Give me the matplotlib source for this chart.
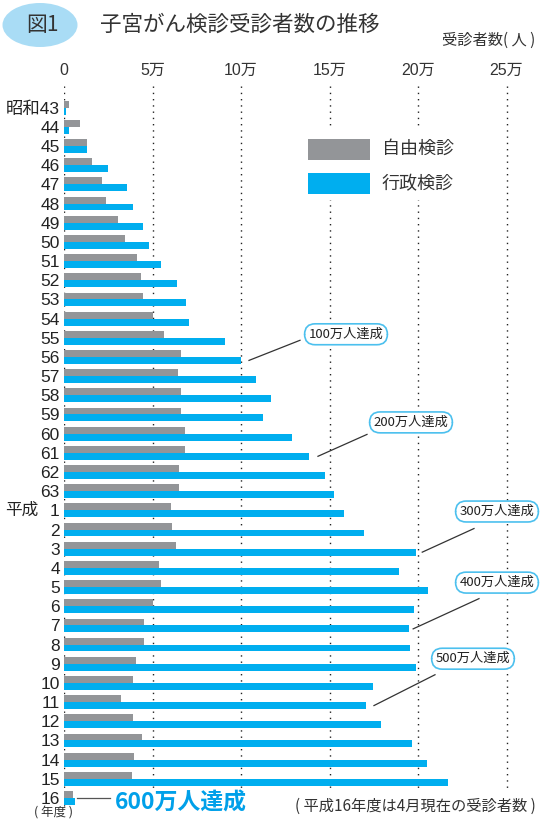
import numpy as np
import matplotlib.pyplot as plt
from matplotlib.patches import Ellipse, Rectangle

plt.rcParams['font.family'] = ['Noto Sans CJK JP', 'DejaVu Sans']

# 年度 (昭和43 ~ 平成16)
years = ["昭和43", "44", "45", "46", "47", "48", "49", "50", "51", "52", "53",
         "54", "55", "56", "57", "58", "59", "60", "61", "62", "63",
         "1", "2", "3", "4", "5", "6", "7", "8", "9", "10", "11", "12", "13",
         "14", "15", "16"]

# 受診者数 (万人)
jiyu = [0.28, 0.9, 1.3, 1.58, 2.15, 2.37, 3.05, 3.45, 4.12, 4.35, 4.46,
        5.03, 5.65, 6.6, 6.44, 6.6, 6.6, 6.84, 6.84, 6.5, 6.5,
        6.05, 6.1, 6.33, 5.37, 5.48, 5.03, 4.52, 4.52, 4.07, 3.9, 3.22, 3.9, 4.4,
        3.95, 3.84, 0.5]
gyosei = [0.11, 0.28, 1.3, 2.49, 3.56, 3.9, 4.46, 4.8, 5.48, 6.38, 6.89,
          7.06, 9.1, 10.0, 10.85, 11.7, 11.24, 12.88, 13.84, 14.75, 15.25,
          15.8, 16.95, 19.9, 18.9, 20.56, 19.77, 19.5, 19.55, 19.9, 17.46, 17.06, 17.9, 19.66,
          20.5, 21.7, 0.62]

xticks = [0, 5, 10, 15, 20, 25]
xticklabels = ["0", "5万", "10万", "15万", "20万", "25万"]

# 達成の注記 (行番号, ラベル)
milestones = [(13, "100万人達成"), (18, "200万人達成"), (23, "300万人達成"),
              (27, "400万人達成"), (31, "500万人達成")]

gray = "#939598"
blue = "#00aeef"
dark = "#333333"
label_font = ['Liberation Sans', 'Noto Sans CJK JP']

W, H = 544, 821
fig = plt.figure(figsize=(W / 100, H / 100), dpi=100)
ax = fig.add_axes([64 / W, 1 - 812 / H, 476 / W, (812 - 86) / H])

y = np.arange(len(years))
bh = 0.36
ax.barh(y - bh / 2, jiyu, height=bh, color=gray, zorder=3)
ax.barh(y + bh / 2, gyosei, height=bh, color=blue, zorder=3)

ax.set_xlim(0, 476 / 17.7)
ax.set_ylim(36.73, -1.13)

# dotted guide lines
for xv in xticks:
    ax.vlines(xv, -1.13, 36.4 if xv == 0 else 35.47, colors="#222222",
              linestyles=(0, (1, 3.5)), linewidth=1.0, zorder=1)

for s in ax.spines.values():
    s.set_visible(False)
ax.xaxis.tick_top()
ax.set_xticks(xticks)
ax.set_xticklabels(xticklabels, fontsize=11.5, color=dark, family=label_font)
ax.tick_params(axis="x", length=0, pad=6)
ax.set_yticks(y)
ax.set_yticklabels(years, fontsize=12.5, color="#222222", family=label_font)
ax.tick_params(axis="y", length=0, pad=3)


def px2x(px):
    return (px - 64) / 17.7


def py2y(py):
    return (py - 107.7) / 19.15


# 平成 label
ax.text(px2x(21.5), 21, "平成", fontsize=12, color="#222222", ha="center", va="center")

# legend
ax.add_patch(Rectangle((px2x(300), py2y(200)), px2x(470) - px2x(300), py2y(128) - py2y(200),
                       facecolor="white", edgecolor="none", zorder=2))
ax.add_patch(Rectangle((px2x(308), py2y(160)), px2x(370) - px2x(308), py2y(139) - py2y(160),
                       facecolor=gray, edgecolor="none", zorder=3))
ax.add_patch(Rectangle((px2x(308), py2y(194)), px2x(370) - px2x(308), py2y(173) - py2y(194),
                       facecolor=blue, edgecolor="none", zorder=3))
ax.text(px2x(382), py2y(149), "自由検診", fontsize=13, color=dark, va="center", zorder=4)
ax.text(px2x(382), py2y(184), "行政検診", fontsize=13, color=dark, va="center", zorder=4)

# milestone annotations
text_pos = [(346, 334), (411, 422), (497, 511), (497, 582), (473, 658)]
line_end = [(300, 340), (367, 434), (474, 528), (479, 598), (435, 674)]
line_gap = [8, 9, 6, 4, 8]
for (i, lab), (tx, ty), (lx, ly), g in zip(milestones, text_pos, line_end, line_gap):
    ax.plot([gyosei[i] + g / 17.7, px2x(lx)], [i + bh / 2, py2y(ly)],
            color="#333333", lw=0.9, zorder=4)
    ax.text(px2x(tx), py2y(ty), lab, fontsize=9.5, color="#222222", ha="center",
            va="center", zorder=5,
            bbox=dict(boxstyle="round,pad=0.3,rounding_size=0.8", fc="white",
                      ec="#4cc0ee", lw=1.2))

# 600万人達成
last = len(years) - 1
ax.plot([px2x(77), px2x(110)], [last, last], color="#555555", lw=0.9, zorder=4)
ax.text(px2x(115), last + 0.25, "600万人達成", fontsize=16.5, fontweight="bold",
        color="#00a0e9", va="center", ha="left", zorder=5)

# title
fig.patches.append(Ellipse((40 / W, 1 - 25 / H), 75 / W, 44 / H, transform=fig.transFigure,
                           facecolor="#a9dcf5", edgecolor="none"))
fig.text(42 / W, 1 - 25 / H, "図1", fontsize=15, color=dark, ha="center", va="center")
fig.text(100 / W, 1 - 25 / H, "子宮がん検診受診者数の推移", fontsize=15.5, color=dark,
         ha="left", va="center")
fig.text(535 / W, 1 - 40 / H, "受診者数( 人 )", fontsize=11, color=dark, ha="right", va="center")

fig.text(53 / W, 1 - 813 / H, "( 年度 )", fontsize=9, color=dark, ha="center", va="center")
fig.text(536 / W, 1 - 806 / H, "( 平成16年度は4月現在の受診者数 )", fontsize=11,
         color=dark, ha="right", va="center")

fig.savefig("out.png", dpi=100)
